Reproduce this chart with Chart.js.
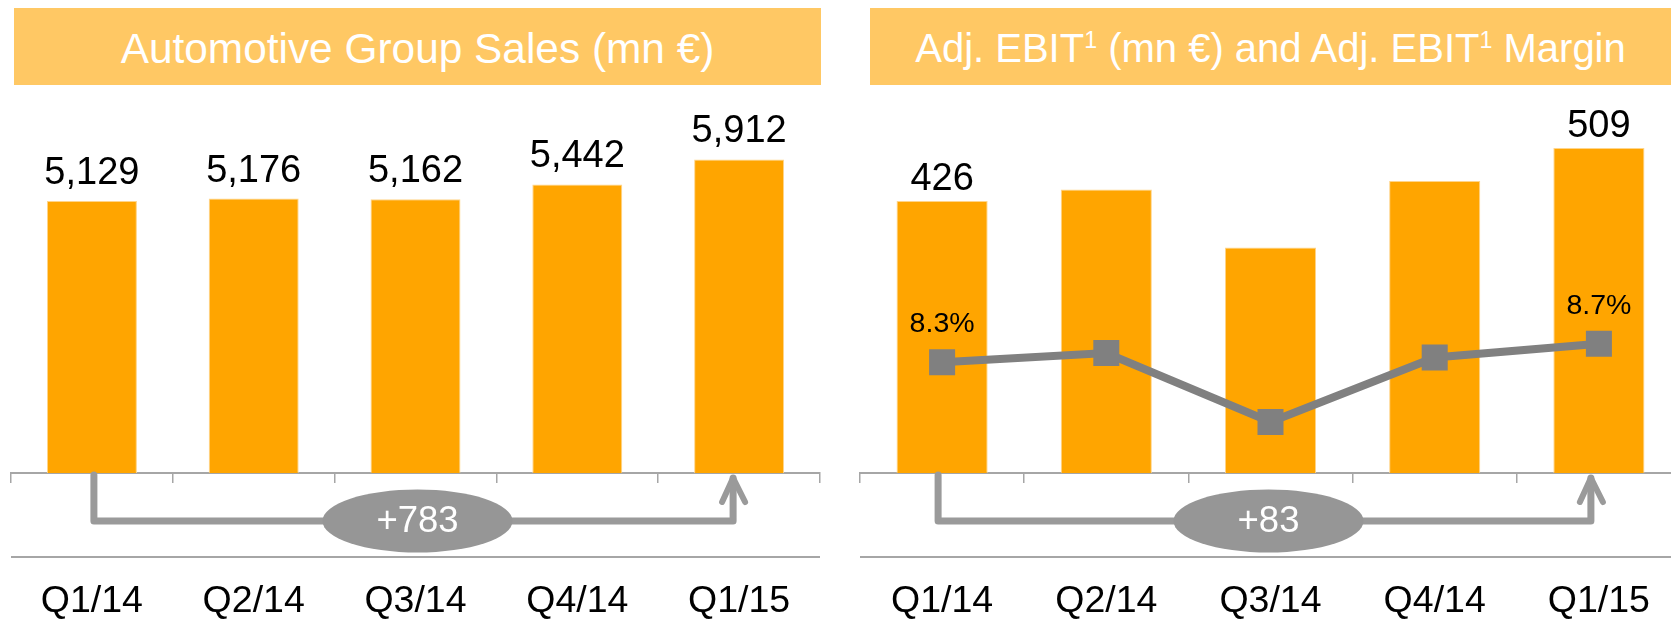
<!DOCTYPE html>
<html>
<head>
<meta charset="utf-8">
<script src="https://cdn.jsdelivr.net/npm/chart.js@4.4.1/dist/chart.umd.min.js"></script>
<style>
  html, body { margin: 0; padding: 0; background: #fff; overflow: hidden; }
  body { width: 1671px; height: 619px; position: relative; font-family: "Liberation Sans", Arial, sans-serif; }
  .banner {
    position: absolute; top: 8px; height: 77px; line-height: 77px;
    background: #FFC864; color: #fff; text-align: center; white-space: nowrap;
    padding-top: 2px; box-sizing: border-box;
  }
  .banner sup { font-size: 0.58em; vertical-align: 0.62em; line-height: 0; }
  #leftBanner { left: 14px; width: 807px; font-size: 42.4px; }
  #rightBanner { left: 870px; width: 801px; font-size: 40px; }
  canvas { position: absolute; top: 0; }
  #salesChart { left: 0; }
  #ebitChart { left: 835px; }
</style>
</head>
<body>
<canvas id="salesChart" width="835" height="619"></canvas>
<canvas id="ebitChart" width="846" height="619"></canvas>
<div class="banner" id="leftBanner">Automotive Group Sales (mn €)</div>
<div class="banner" id="rightBanner">Adj. EBIT<sup>1</sup> (mn €) and Adj. EBIT<sup>1</sup> Margin</div>
<script>
const categories = ["Q1/14", "Q2/14", "Q3/14", "Q4/14", "Q1/15"];
const salesValues = [5129, 5176, 5162, 5442, 5912];
const ebitValues = [426, 444, 353, 457, 509];
const marginValues = [8.3, 8.5, 7.0, 8.4, 8.7];
// which points carry a printed label
const salesLabelShown = [true, true, true, true, true];
const ebitLabelShown = [true, false, false, false, true];
const marginLabelShown = [true, false, false, false, true];

const FONT = "'Liberation Sans', Arial, sans-serif";
const BAR = "#FFA500";
const GREY = "#808080";
const AXIS = "#A6A6A6";
const BRACKET = "#9A9A9A";

Chart.defaults.font.family = FONT;
Chart.defaults.animation = false;

// value labels, margin labels and the +delta bracket
const annotate = {
  id: "annotate",
  afterDatasetsDraw(chart, args, opts) {
    const ctx = chart.ctx;
    const area = chart.chartArea;
    ctx.save();
    ctx.textAlign = "center";
    ctx.textBaseline = "alphabetic";
    ctx.fillStyle = "#000";

    chart.data.datasets.forEach((ds, i) => {
      const meta = chart.getDatasetMeta(i);
      const shown = ds.labelShown || [];
      meta.data.forEach((el, j) => {
        if (!shown[j]) return;
        if (ds.type === "line") {
          ctx.font = "28.5px " + FONT;
          ctx.fillText(ds.data[j].toFixed(1) + "%", el.x, el.y - 30);
        } else {
          ctx.font = "38px " + FONT;
          ctx.fillText(ds.data[j].toLocaleString("en-US"), el.x, el.y - opts.labelGap);
        }
      });
    });

    // bracket from first to last bar
    const bars = chart.getDatasetMeta(opts.barIndex).data;
    const vals = chart.data.datasets[opts.barIndex].data;
    const x0 = bars[0].x + opts.startShift;
    const x1 = bars[bars.length - 1].x + opts.endShift;
    const yTop = area.bottom + 2;
    const yLine = area.bottom + 48;
    ctx.strokeStyle = BRACKET;
    ctx.lineWidth = 7;
    ctx.lineJoin = "round";
    ctx.lineCap = "round";
    ctx.beginPath();
    ctx.moveTo(x0, yTop);
    ctx.lineTo(x0, yLine);
    ctx.lineTo(x1, yLine);
    ctx.lineTo(x1, yTop + 3);
    ctx.stroke();
    ctx.lineWidth = 6;
    ctx.beginPath();
    ctx.moveTo(x1 - 11, yTop + 27);
    ctx.lineTo(x1, yTop + 3);
    ctx.lineTo(x1 + 12, yTop + 27);
    ctx.stroke();

    const cx = (x0 + x1) / 2 + 4;
    ctx.fillStyle = "#969696";
    ctx.beginPath();
    ctx.ellipse(cx, yLine, 95, 31.5, 0, 0, Math.PI * 2);
    ctx.fill();
    const delta = vals[vals.length - 1] - vals[0];
    ctx.fillStyle = "#fff";
    ctx.font = "36.5px " + FONT;
    ctx.textBaseline = "middle";
    ctx.fillText("+" + delta.toLocaleString("en-US"), cx, yLine + 1);

    // lower rule
    ctx.strokeStyle = AXIS;
    ctx.lineWidth = 2;
    ctx.lineCap = "butt";
    ctx.beginPath();
    ctx.moveTo(area.left, area.bottom + 84);
    ctx.lineTo(area.right, area.bottom + 84);
    ctx.stroke();
    ctx.restore();
  }
};

function xScale() {
  return {
    grid: { offset: true, drawOnChartArea: false, drawTicks: true, tickLength: 10, color: AXIS, lineWidth: 1.5 },
    border: { display: true, color: AXIS, width: 2 },
    ticks: { color: "#000", font: { size: 37.5 }, padding: 96, maxRotation: 0 },
    afterFit: (s) => { s.height = 146; s.paddingLeft = 0; s.paddingRight = 0; }
  };
}

new Chart("salesChart", {
  type: "bar",
  data: {
    labels: categories,
    datasets: [{
      data: salesValues,
      labelShown: salesLabelShown,
      backgroundColor: BAR,
      borderColor: "#FFD58A",
      borderWidth: 1,
      barPercentage: 0.556,
      categoryPercentage: 1
    }]
  },
  options: {
    responsive: false,
    layout: { autoPadding: false, padding: { top: 100, left: 11, right: 15, bottom: 0 } },
    plugins: {
      legend: { display: false },
      tooltip: { enabled: false },
      annotate: { barIndex: 0, labelGap: 17, startShift: 2, endShift: -6 }
    },
    scales: {
      x: xScale(),
      y: { display: false, min: 0, max: 7034 }
    }
  },
  plugins: [annotate]
});

new Chart("ebitChart", {
  data: {
    labels: categories,
    datasets: [{
      type: "line",
      data: marginValues,
      labelShown: marginLabelShown,
      yAxisID: "y2",
      borderColor: GREY,
      borderWidth: 8,
      pointStyle: "rect",
      pointRadius: 18.4,
      pointBorderWidth: 0,
      pointBackgroundColor: GREY,
      tension: 0,
      order: 0
    }, {
      type: "bar",
      data: ebitValues,
      labelShown: ebitLabelShown,
      yAxisID: "y",
      backgroundColor: BAR,
      borderColor: "#FFD58A",
      borderWidth: 1,
      barPercentage: 0.555,
      categoryPercentage: 1,
      order: 1
    }]
  },
  options: {
    responsive: false,
    layout: { autoPadding: false, padding: { top: 100, left: 25, right: 0, bottom: 0 } },
    plugins: {
      legend: { display: false },
      tooltip: { enabled: false },
      annotate: { barIndex: 1, labelGap: 11, startShift: -4, endShift: -8 }
    },
    scales: {
      x: xScale(),
      y: { display: false, min: 0, max: 584 },
      y2: { display: false, position: "right", min: 5.89, max: 14.0 }
    }
  },
  plugins: [annotate]
});
</script>
</body>
</html>
